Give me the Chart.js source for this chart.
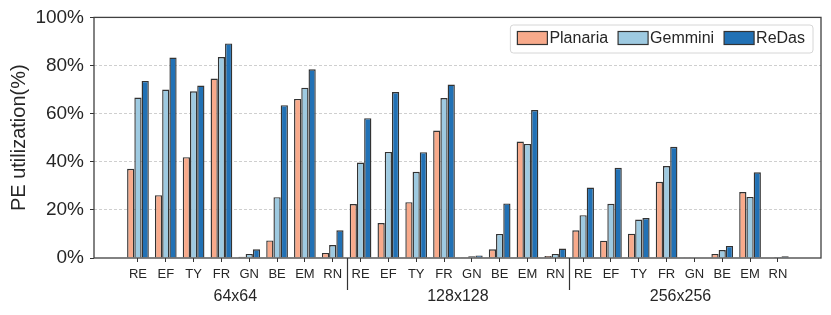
<!DOCTYPE html>
<html>
<head>
<meta charset="utf-8">
<script src="https://cdn.jsdelivr.net/npm/chart.js@4/dist/chart.umd.min.js"></script>
<style>
    body { margin: 0; background: #fff; }
    #box { width: 831px; height: 315px; }
</style>
</head>
<body>
<div id="box"><canvas id="grafico"></canvas></div>
<script>
// dados
const grupos = ['64x64', '128x128', '256x256'];
const redes = ['RE', 'EF', 'TY', 'FR', 'GN', 'BE', 'EM', 'RN'];
const yTicks = [0, 20, 40, 60, 80, 100];

const planaria = [
    37.1, 26.1, 41.9, 74.6, 0.5, 7.3, 66.1, 2.1,
    22.4, 14.5, 23.2, 53.0, 0.3, 3.6, 48.4, 0.8,
    11.5, 7.2, 10.1, 31.7, 0.1, 1.7, 27.4, 0.2
];
const gemmini = [
    66.7, 70.0, 69.3, 83.5, 1.7, 25.3, 70.8, 5.4,
    39.7, 44.1, 35.8, 66.5, 0.7, 10.0, 47.4, 1.7,
    17.8, 22.5, 16.0, 38.2, 0.2, 3.3, 25.4, 0.4
];
const redas = [
    73.6, 83.3, 71.7, 89.2, 3.6, 63.5, 78.4, 11.5,
    58.1, 69.0, 44.0, 72.1, 1.0, 22.7, 61.5, 3.9,
    29.3, 37.5, 16.6, 46.2, 0.2, 5.0, 35.6, 0.7
];

const fonte = '"Liberation Sans", Arial, sans-serif';
const corTexto = '#262626';

function pontos(valores) {
    return valores.map((v, i) => ({ x: i, y: v }));
}

const series = [
    { label: 'Planaria', data: planaria, cor: '#f8aa8b' },
    { label: 'Gemmini', data: gemmini, cor: '#9ecae1' },
    { label: 'ReDas', data: redas, cor: '#2171b5' }
];

// moldura, separadores de grupo e legenda
const extras = {
    id: 'extras',
    afterDraw(chart) {
        const ctx = chart.ctx;
        const area = chart.chartArea;
        const x = chart.scales.x;
        ctx.save();

        ctx.strokeStyle = '#404040';
        ctx.lineWidth = 1.3;
        ctx.strokeRect(area.left, area.top, area.right - area.left, area.bottom - area.top);

        ctx.lineWidth = 1.2;
        ctx.strokeStyle = '#333';
        for (let g = 1; g < grupos.length; g++) {
            const px = Math.round(x.getPixelForValue(g * redes.length - 0.5)) + 0.5;
            ctx.beginPath();
            ctx.moveTo(px, area.bottom);
            ctx.lineTo(px, area.bottom + 32);
            ctx.stroke();
        }

        ctx.fillStyle = corTexto;
        ctx.font = '16px ' + fonte;
        ctx.textAlign = 'center';
        ctx.textBaseline = 'middle';
        grupos.forEach((g, i) => {
            const px = x.getPixelForValue(i * redes.length + (redes.length - 1) / 2);
            ctx.fillText(g, px, area.bottom + 39);
        });

        // legenda
        ctx.font = '16px ' + fonte;
        let larg = 7;
        series.forEach((s, i) => {
            larg += 30 + 3 + ctx.measureText(s.label).width + (i < series.length - 1 ? 9 : 7);
        });
        const lx = 813 - larg, ly = 25, lh = 28;
        ctx.beginPath();
        ctx.roundRect(lx, ly, larg, lh, 3);
        ctx.fillStyle = 'rgba(255,255,255,0.85)';
        ctx.fill();
        ctx.strokeStyle = '#d6d6d6';
        ctx.lineWidth = 1;
        ctx.stroke();

        let cx = lx + 7;
        ctx.textAlign = 'left';
        series.forEach(s => {
            ctx.fillStyle = s.cor;
            ctx.fillRect(cx, ly + 6.5, 30, 13);
            ctx.strokeStyle = '#333';
            ctx.lineWidth = 1.2;
            ctx.strokeRect(cx, ly + 6.5, 30, 13);
            ctx.fillStyle = corTexto;
            ctx.fillText(s.label, cx + 32, ly + 14);
            cx += 30 + 3 + ctx.measureText(s.label).width + 9;
        });
        ctx.restore();
    }
};

const total = redes.length * grupos.length;

const myChart = new Chart(document.getElementById('grafico').getContext('2d'), {
    type: 'bar',
    data: {
        datasets: series.map(s => ({
            label: s.label,
            data: pontos(s.data),
            backgroundColor: s.cor,
            borderColor: '#333333',
            borderWidth: 1.4,
            categoryPercentage: 0.78,
            barPercentage: 1.0
        }))
    },
    options: {
        responsive: true,
        maintainAspectRatio: false,
        animation: false,
        layout: { padding: { left: 0, right: 10, top: 17, bottom: 0 } },
        plugins: {
            legend: { display: false },
            tooltip: { enabled: false }
        },
        scales: {
            x: {
                type: 'linear',
                offset: false,
                min: -1.58,
                max: total - 1 + 1.55,
                afterBuildTicks: scale => {
                    scale.ticks = Array.from({ length: total }, (_, i) => ({ value: i }));
                },
                afterFit: scale => { scale.height = 57; },
                ticks: {
                    autoSkip: false,
                    maxRotation: 0,
                    padding: 5,
                    color: corTexto,
                    font: { family: fonte, size: 13 },
                    callback: v => redes[Math.round(v) % redes.length]
                },
                grid: {
                    offset: false,
                    drawOnChartArea: false,
                    drawTicks: true,
                    tickLength: 4,
                    tickColor: '#333'
                },
                border: { display: false }
            },
            y: {
                min: 0,
                max: 100,
                afterBuildTicks: scale => {
                    scale.ticks = yTicks.map(v => ({ value: v }));
                },
                afterFit: scale => { scale.width = 94; },
                ticks: {
                    padding: 6,
                    color: corTexto,
                    font: { family: fonte, size: 19 },
                    callback: v => v + '%'
                },
                grid: {
                    color: c => (c.tick && c.tick.value > 0 && c.tick.value < 100) ? '#cfcfcf' : 'rgba(0,0,0,0)',
                    lineWidth: 1,
                    drawTicks: true,
                    tickLength: 4,
                    tickColor: '#333'
                },
                border: { display: false, dash: [3, 2] },
                title: {
                    display: true,
                    text: 'PE utilization(%)',
                    color: corTexto,
                    font: { family: fonte, size: 20 },
                    padding: { top: 7, bottom: 0 }
                }
            }
        }
    },
    plugins: [extras]
});
</script>
</body>
</html>
